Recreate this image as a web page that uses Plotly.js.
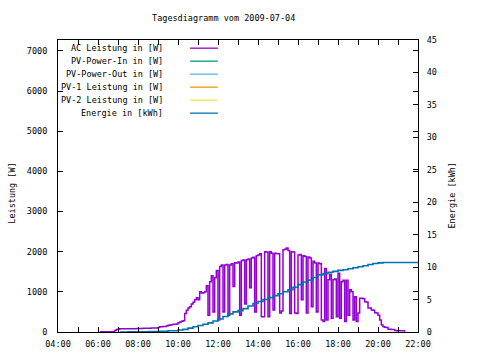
<!DOCTYPE html>
<html>
<head>
<meta charset="utf-8">
<script src="https://cdn.plot.ly/plotly-3.0.1.min.js"></script>
<style>html,body{margin:0;padding:0;background:#fff;}#chart{width:480px;height:360px;}</style>
</head>
<body>
<div id="chart"></div>
<script>
// ---- data ----
const chartTitle = 'Tagesdiagramm vom 2009-07-04';
const day = '2009-07-04';
const yTitleLeft = 'Leistung [W]';
const yTitleRight = 'Energie [kWh]';
const seriesNames = ['AC Leistung in [W]', 'PV-Power-In in [W]', 'PV-Power-Out in [W]', 'PV-1 Leistung in [W]', 'PV-2 Leistung in [W]', 'Energie in [kWh]'];
const seriesColors = ['#9400d3', '#009e73', '#56b4e9', '#e69f00', '#f0e442', '#0072b2'];
const xTickLabels = ['04:00','06:00','08:00','10:00','12:00','14:00','16:00','18:00','20:00','22:00'];

const acTime = [
'06:05','06:10','06:15','06:20','06:25','06:30','06:35','06:40','06:45','06:50','06:55',
'07:00','07:05','07:10','07:15','07:20','07:25','07:30','07:35','07:40','07:45','07:50','07:55',
'08:00','08:05','08:10','08:15','08:20','08:25','08:30','08:35','08:40','08:45','08:50','08:55',
'09:00','09:05','09:10','09:15','09:20','09:25','09:30','09:35','09:40','09:45','09:50','09:55',
'10:00','10:05','10:10','10:15','10:20','10:25','10:30','10:35','10:40','10:45','10:50','10:55',
'11:00','11:05','11:10','11:15','11:20','11:25','11:30','11:35','11:40','11:45','11:50','11:55',
'12:00','12:05','12:10','12:15','12:20','12:25','12:30','12:35','12:40','12:45','12:50','12:55',
'13:00','13:05','13:10','13:15','13:20','13:25','13:30','13:35','13:40','13:45','13:50','13:55',
'14:00','14:05','14:10','14:15','14:20','14:25','14:30','14:35','14:40','14:45','14:50','14:55',
'15:00','15:05','15:10','15:15','15:20','15:25','15:30','15:35','15:40','15:45','15:50','15:55',
'16:00','16:05','16:10','16:15','16:20','16:25','16:30','16:35','16:40','16:45','16:50','16:55',
'17:00','17:05','17:10','17:15','17:20','17:25','17:30','17:35','17:40','17:45','17:50','17:55',
'18:00','18:05','18:10','18:15','18:20','18:25','18:30','18:35','18:40','18:45','18:50','18:55',
'19:00','19:05','19:10','19:15','19:20','19:25','19:30','19:35','19:40','19:45','19:50','19:55',
'20:00','20:05','20:10','20:15','20:20','20:25','20:30','20:35','20:40','20:45','20:50','20:55',
'21:00','21:05','21:10','21:15','21:20'];
const acPower = [
5,5,5,5,5,5,5,5,5,40,65,
70,80,80,80,80,80,80,80,80,82,82,85,
85,85,85,95,95,95,95,95,98,98,100,100,
110,130,130,135,140,150,165,175,180,190,195,200,
230,250,265,280,460,540,600,630,700,740,800,850,
800,1000,970,980,1000,1150,420,1250,1400,500,1350,1530,
300,1630,1670,500,1670,1680,420,1670,1700,1130,1725,1720,
1740,420,1780,1790,700,1800,1820,1100,1840,1860,500,1900,
1920,1950,380,380,2000,1990,380,2000,1960,550,1960,1950,
1950,470,520,2050,2060,2090,2030,460,2000,1990,470,460,
1920,1930,800,1900,1880,470,1870,1840,630,1760,1720,500,
1720,1700,300,260,1580,300,1300,1440,340,1300,1320,380,
1460,340,1250,1290,260,1290,420,1050,1000,300,880,260,
470,840,840,830,755,750,600,600,550,540,480,470,
420,300,175,130,117,110,70,67,65,60,40,33,
33,33,30,30,5];

const energyTime = ['07:05','07:30','08:00','08:30','09:00','09:30','10:00','10:15','10:30','10:45',
'11:00','11:15','11:30','11:45','12:00','12:15','12:30','12:45','13:00','13:15','13:30','13:45',
'14:00','14:15','14:30','14:45','15:00','15:15','15:30','15:45','16:00','16:15','16:30','16:45',
'17:00','17:15','17:30','17:45','18:00','18:15','18:30','18:45','19:00','19:15','19:30','19:45',
'20:00','20:15','20:30','21:00','22:00'];
const energyKWh = [0,0.02,0.04,0.07,0.1,0.2,0.3,0.4,0.6,0.8,
1.0,1.2,1.4,1.7,2.0,2.4,2.8,3.1,3.3,3.6,4.0,4.4,
4.7,5.0,5.3,5.6,5.9,6.2,6.5,6.9,7.3,7.7,8.0,8.4,
8.8,9.0,9.2,9.35,9.5,9.6,9.75,9.9,10.05,10.2,10.4,10.55,
10.65,10.7,10.72,10.72,10.72];

// ---- drawing ----
const FONT = 'DejaVu Sans Mono, Liberation Mono, monospace';
const FS = 8.5;
const ts = t => day + ' ' + t;

const traces = [
  {name: seriesNames[0], x: acTime.map(ts), y: acPower, type: 'scatter', mode: 'lines',
   line: {color: seriesColors[0], width: 1.5, shape: 'hv'}, yaxis: 'y'},
  {name: seriesNames[1], x: [], y: [], type: 'scatter', mode: 'lines', line: {color: seriesColors[1]}, yaxis: 'y'},
  {name: seriesNames[2], x: [], y: [], type: 'scatter', mode: 'lines', line: {color: seriesColors[2]}, yaxis: 'y'},
  {name: seriesNames[3], x: [], y: [], type: 'scatter', mode: 'lines', line: {color: seriesColors[3]}, yaxis: 'y'},
  {name: seriesNames[4], x: [], y: [], type: 'scatter', mode: 'lines', line: {color: seriesColors[4]}, yaxis: 'y'},
  {name: seriesNames[5], x: energyTime.map(ts), y: energyKWh, type: 'scatter', mode: 'lines',
   line: {color: seriesColors[5], width: 1.6, shape: 'hv'}, yaxis: 'y2'}
];

// gnuplot-style key: right-aligned text, line sample to its right
const keyTop = 0.972, keyStep = 0.0445;
const annotations = seriesNames.map((n, i) => ({
  text: n, xref: 'paper', yref: 'paper', x: 0.297, y: keyTop - i * keyStep,
  xanchor: 'right', yanchor: 'middle', showarrow: false,
  font: {family: FONT, size: FS, color: '#000'}
}));
annotations.push({text: yTitleLeft, xref: 'paper', yref: 'paper', x: -0.1286, y: 0.476,
  textangle: -90, xanchor: 'center', yanchor: 'middle', showarrow: false,
  font: {family: FONT, size: FS, color: '#000'}});
annotations.push({text: yTitleRight, xref: 'paper', yref: 'paper', x: 1.0958, y: 0.469,
  textangle: -90, xanchor: 'center', yanchor: 'middle', showarrow: false,
  font: {family: FONT, size: FS, color: '#000'}});

const shapes = seriesNames.map((n, i) => ({
  type: 'line', xref: 'paper', yref: 'paper',
  x0: 0.367, x1: 0.444, y0: keyTop - i * keyStep, y1: keyTop - i * keyStep,
  line: {color: seriesColors[i], width: 1.3}
}));

const axisCommon = {
  showgrid: false, zeroline: false, showline: true, linecolor: '#000', linewidth: 1,
  ticks: 'inside', tickcolor: '#000', ticklen: 5, tickwidth: 1,
  tickfont: {family: FONT, size: FS, color: '#000'}
};

const layout = {
  width: 480, height: 360,
  margin: {l: 58, r: 62, t: 40, b: 28},
  paper_bgcolor: '#fff', plot_bgcolor: '#fff',
  showlegend: false,
  font: {family: FONT, size: FS, color: '#000'},
  title: {text: chartTitle, x: 0.466, xref: 'container', xanchor: 'center', y: 0.95, yanchor: 'middle', yref: 'container',
          font: {family: FONT, size: FS, color: '#000'}},
  xaxis: Object.assign({}, axisCommon, {
    type: 'date', range: [ts('04:00'), ts('22:00')],
    tickmode: 'array', tickvals: xTickLabels.map(ts), ticktext: xTickLabels,
    mirror: 'allticks', ticklabelstandoff: 4,
    minor: {dtick: 3600000, ticks: 'inside', ticklen: 3, tickcolor: '#000', showgrid: false}
  }),
  yaxis: Object.assign({}, axisCommon, {
    range: [0, 7270], dtick: 1000, tick0: 0, mirror: 'allticks', ticklabelstandoff: 8
  }),
  yaxis2: Object.assign({}, axisCommon, {
    range: [0, 45], dtick: 5, tick0: 0, overlaying: 'y', side: 'right', ticklabelstandoff: 6
  }),
  annotations: annotations,
  shapes: shapes
};

Plotly.newPlot('chart', traces, layout, {staticPlot: true, displayModeBar: false});
</script>
</body>
</html>
